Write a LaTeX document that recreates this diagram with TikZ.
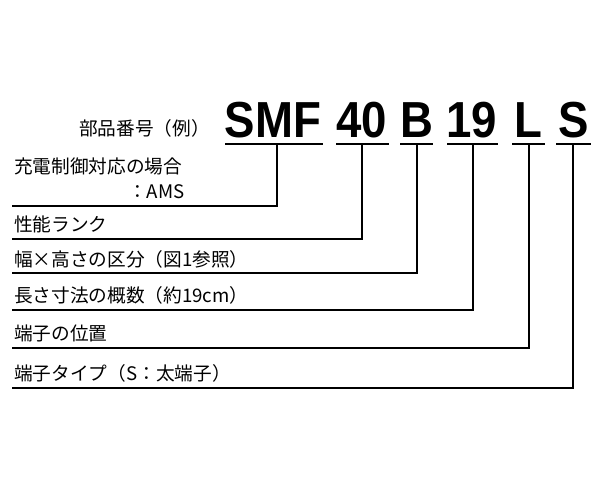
\documentclass[tikz,border=0pt]{standalone}
\usepackage{fontspec}
\setmainfont{Liberation Sans}
\newfontfamily\jp{Noto Sans CJK JP}
\usetikzlibrary{positioning, calc}
\tikzset{
	every node/.style={inner sep=0pt},
	seg/.style={font=\fontsize{38}{38}\selectfont\bfseries, anchor=base, xscale=0.9},
	lbl/.style={font=\jp\fontsize{14}{14}\selectfont, anchor=base west},
	lead/.style={line width=2.2pt}
}
\begin{document}
\begin{tikzpicture}[x=0.75pt,y=-0.75pt]
	\useasboundingbox (0,0) rectangle (600,500);
	
	\node[lbl, anchor=base east] (title) at (210,135) {部品番号（例）};
	
	% part number segments
	\node[seg] (smf) at (273,137) {SMF};
	\node[seg] (n40) at (362,137) {40};
	\node[seg] (b) at (417,137) {B};
	\node[seg] (n19) at (472,137) {19};
	\node[seg] (l) at (528,137) {L};
	\node[seg] (s) at (574,137) {S};
	
	% underlines
	\draw[lead] (225,144) -- (323,144);
	\draw[lead] (336,144) -- (389,144);
	\draw[lead] (400,144) -- (433,144);
	\draw[lead] (447,144) -- (498,144);
	\draw[lead] (512,144) -- (545,144);
	\draw[lead] (556,144) -- (591,144);
	
	% leaders
	\draw[lead] (277,144) |- (12,206);
	\draw[lead] (362,144) |- (12,239);
	\draw[lead] (417,144) |- (12,273);
	\draw[lead] (473,144) |- (12,310);
	\draw[lead] (529,144) |- (12,348);
	\draw[lead] (573,144) |- (12,388);
	
	% labels
	\node[lbl] (ams1) at (14,173) {充電制御対応の場合};
	\node[lbl] (ams2) at (128,198) {：AMS};
	\node[lbl] (rank) at (14,231) {性能ランク};
	\node[lbl] (width) at (14,266) {幅×高さの区分（図1参照）};
	\node[lbl] (len) at (14,302) {長さ寸法の概数（約19cm）};
	\node[lbl] (pos) at (14,340) {端子の位置};
	\node[lbl] (type) at (14,380) {端子タイプ（S：太端子）};
\end{tikzpicture}
\end{document}
